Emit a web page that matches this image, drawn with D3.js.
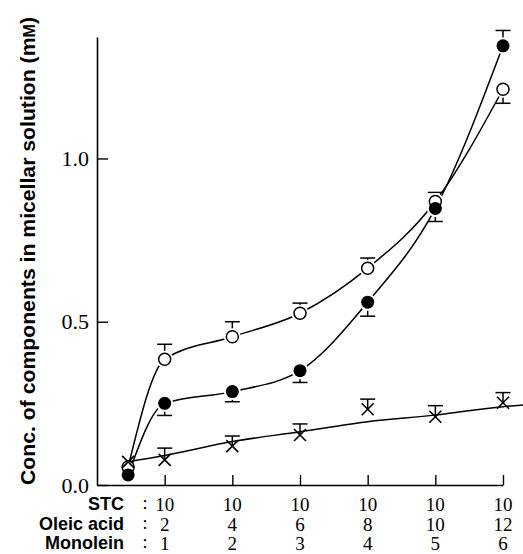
<!DOCTYPE html>
<html>
<head>
<meta charset="utf-8">
<script src="https://cdn.jsdelivr.net/npm/d3@7"></script>
<style>
  body { margin: 0; background: #fff; }
  svg { display: block; }
</style>
</head>
<body>
<svg id="chart" width="523" height="554"></svg>
<script>
// data
const xPos = [0.46, 1, 2, 3, 4, 5, 6];
const openVals = [0.055, 0.385, 0.454, 0.526, 0.664, 0.868, 1.212];
const openErr = [0, 0.046, 0.046, 0.031, 0.031, 0.028, -0.043];   // + up, - down
const filledVals = [0.031, 0.25, 0.286, 0.35, 0.56, 0.847, 1.345];
const filledErr = [0, -0.037, -0.031, -0.036, -0.043, -0.04, 0.047];
const crossVals = [0.071, 0.077, 0.119, 0.153, 0.232, 0.209, 0.252];
const crossErr = [0, 0.036, 0.031, 0.034, 0.031, 0.034, 0.031];
// fitted line for the cross series
const crossFitX = [0.46, 1, 2, 3, 4, 5, 6, 6.3];
const crossFit = [0.071, 0.09, 0.133, 0.163, 0.194, 0.214, 0.24, 0.245];

const rowLabels = ["STC", "Oleic acid", "Monolein"];
const stcVals = [10, 10, 10, 10, 10, 10];
const oleicVals = [2, 4, 6, 8, 10, 12];
const monoleinVals = [1, 2, 3, 4, 5, 6];
const yTicks = [0, 0.5, 1.0];

const svg = d3.select("#chart");
const x = d3.scaleLinear().domain([0, 6]).range([97, 503]);
const y = d3.scaleLinear().domain([0, 1.372]).range([485, 37]);

const serif = "'Liberation Serif', 'Times New Roman', serif";
const sans = "'Liberation Sans', Arial, sans-serif";

// axes
const yAxis = svg.append("g")
    .attr("transform", `translate(${x(0)},0)`)
    .call(d3.axisLeft(y).tickValues(yTicks).tickSize(-11).tickSizeOuter(0)
        .tickPadding(8).tickFormat(d3.format(".1f")));
yAxis.select(".domain").attr("stroke-width", 1.6);
yAxis.selectAll(".tick line").attr("stroke-width", 1.4);
yAxis.selectAll(".tick text").style("font-family", serif).style("font-size", "22px").attr("fill", "#000");

const xAxis = svg.append("g")
    .attr("transform", `translate(0,${y(0)})`)
    .call(d3.axisBottom(x).tickValues(monoleinVals).tickSize(-10).tickSizeOuter(0).tickFormat(""));
xAxis.select(".domain").attr("stroke-width", 1.6);
xAxis.selectAll(".tick line").attr("stroke-width", 1.4);

// axis title
svg.append("text")
    .attr("transform", `translate(35,${(y(0) + 13) / 2 + 2}) rotate(-90)`)
    .attr("text-anchor", "middle")
    .style("font-family", sans)
    .style("font-weight", "bold")
    .style("font-size", "21px")
    .attr("textLength", 468)
    .attr("lengthAdjust", "spacingAndGlyphs")
    .html("Conc. of components in micellar solution (m<tspan style='font-size:16px'>M</tspan>)");

// composition rows under the x axis
const rows = [stcVals, oleicVals, monoleinVals];
const rowY = [511, 530.5, 550];
rows.forEach((vals, i) => {
    svg.append("text")
        .attr("x", 124).attr("y", rowY[i] - 1)
        .attr("text-anchor", "end")
        .style("font-family", sans).style("font-weight", "bold").style("font-size", "18px")
        .text(rowLabels[i]);
    svg.append("text")
        .attr("x", 145).attr("y", rowY[i] - 2)
        .attr("text-anchor", "middle")
        .style("font-family", serif).style("font-size", "18px")
        .text(":");
    svg.selectAll(null).data(vals).enter().append("text")
        .attr("x", (d, j) => x(j + 1))
        .attr("y", rowY[i])
        .attr("text-anchor", "middle")
        .style("font-family", serif).style("font-size", "19px")
        .text(d => d);
});

// curves
const curve = d3.line().x(d => x(d[0])).y(d => y(d[1])).curve(d3.curveMonotoneX);
const plot = svg.append("g").attr("fill", "none").attr("stroke", "#000").attr("stroke-width", 1.5);
plot.append("path").attr("d", curve(xPos.map((d, i) => [d, openVals[i]])));
plot.append("path").attr("d", curve(xPos.map((d, i) => [d, filledVals[i]])));
plot.append("path").attr("d", curve(crossFitX.map((d, i) => [d, crossFit[i]])));

// error bars
function errBars(vals, errs, r) {
    const g = svg.append("g").attr("stroke", "#000").attr("stroke-width", 1.5);
    vals.forEach((v, i) => {
        const e = errs[i];
        if (!e) return;
        const cx = x(xPos[i]);
        const y0 = y(v) + (e > 0 ? -r : r);
        const y1 = y(v + e);
        g.append("line").attr("x1", cx).attr("x2", cx).attr("y1", y0).attr("y2", y1);
        g.append("line").attr("x1", cx - 7.5).attr("x2", cx + 7.5).attr("y1", y1).attr("y2", y1);
    });
}
errBars(openVals, openErr, 6);
errBars(filledVals, filledErr, 6);
errBars(crossVals, crossErr, 0);

// markers
const halo = svg.append("g").attr("fill", "#fff");
[openVals, filledVals].forEach(vals => {
    halo.selectAll(null).data(vals.slice(1)).enter().append("circle")
        .attr("cx", (d, i) => x(xPos[i + 1])).attr("cy", d => y(d)).attr("r", 8.5);
});
svg.append("g").selectAll("circle").data(openVals).enter().append("circle")
    .attr("cx", (d, i) => x(xPos[i])).attr("cy", d => y(d)).attr("r", 6)
    .attr("fill", "#fff").attr("stroke", "#000").attr("stroke-width", 1.5);
svg.append("g").selectAll("circle").data(filledVals).enter().append("circle")
    .attr("cx", (d, i) => x(xPos[i])).attr("cy", d => y(d)).attr("r", 6.5)
    .attr("fill", "#000");
const cross = svg.append("g").attr("stroke", "#000").attr("stroke-width", 1.6);
crossVals.forEach((v, i) => {
    const cx = x(xPos[i]), cy = y(v), s = 6;
    cross.append("line").attr("x1", cx - s).attr("y1", cy - s).attr("x2", cx + s).attr("y2", cy + s);
    cross.append("line").attr("x1", cx - s).attr("y1", cy + s).attr("x2", cx + s).attr("y2", cy - s);
});
</script>
</body>
</html>
